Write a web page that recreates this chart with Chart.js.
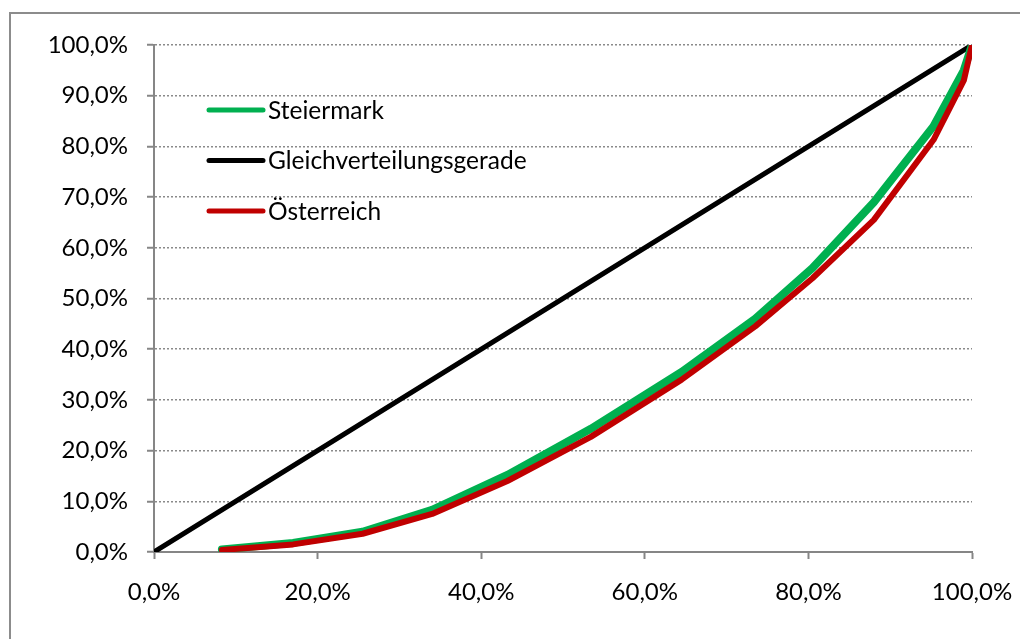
<!DOCTYPE html>
<html>
<head>
<meta charset="utf-8">
<script src="https://cdn.jsdelivr.net/npm/chart.js@4"></script>
<style>
  html, body { margin: 0; padding: 0; background: #fff; }
  canvas { display: block; }
</style>
</head>
<body>
<canvas id="lorenz" width="1020" height="639"></canvas>
<script>
// cumulative population share (x) and income share (y)
const popShare = [0.083, 0.17, 0.255, 0.34, 0.432, 0.534, 0.645, 0.735, 0.805, 0.88, 0.953, 0.99, 1.0];
const steiermarkShare = [0.005, 0.018, 0.04, 0.083, 0.152, 0.243, 0.355, 0.46, 0.56, 0.69, 0.84, 0.95, 1.0];
const oesterreichShare = [0.004, 0.015, 0.036, 0.075, 0.14, 0.227, 0.34, 0.445, 0.54, 0.655, 0.813, 0.93, 1.0];
const equalX = [0, 1];
const equalY = [0, 1];

const seriesNames = ["Steiermark", "Gleichverteilungsgerade", "Österreich"];

const FONT = "Lato, 'Liberation Sans', sans-serif";

function pairs(xs, ys) {
  return xs.map((x, i) => ({ x: x, y: ys[i] }));
}

function pct(v) {
  return (v * 100).toFixed(1).replace(".", ",") + "%";
}

// grey frame around the whole chart
const framePlugin = {
  id: "frame",
  beforeDraw(chart) {
    const ctx = chart.ctx;
    ctx.save();
    ctx.fillStyle = "#fff";
    ctx.fillRect(0, 0, chart.width, chart.height);
    ctx.strokeStyle = "#8c8c8c";
    ctx.lineWidth = 2;
    ctx.strokeRect(10, 13, chart.width + 20, chart.height + 20);
    ctx.restore();
  }
};

// legend drawn inside the plot area, top left
const innerLegend = {
  id: "innerLegend",
  afterDraw(chart) {
    const ctx = chart.ctx;
    const area = chart.chartArea;
    ctx.save();
    ctx.font = "24.5px " + FONT;
    ctx.textBaseline = "middle";
    ctx.fillStyle = "#000";
    chart.data.datasets.forEach((ds, row) => {
      const y = area.top + 65 + row * 50.5;
      const x0 = area.left + 55;
      ctx.beginPath();
      ctx.strokeStyle = ds.borderColor;
      ctx.lineWidth = 5;
      ctx.lineCap = "round";
      ctx.moveTo(x0, y);
      ctx.lineTo(x0 + 54, y);
      ctx.stroke();
      ctx.fillText(ds.label, x0 + 59, y + 1);
    });
    ctx.restore();
  }
};

const ctx = document.getElementById("lorenz").getContext("2d");

new Chart(ctx, {
  type: "scatter",
  data: {
    datasets: [
      {
        label: seriesNames[0],
        data: pairs(popShare, steiermarkShare),
        borderColor: "#00b050",
        borderWidth: 8,
        order: 1
      },
      {
        label: seriesNames[1],
        data: pairs(equalX, equalY),
        borderColor: "#000000",
        borderWidth: 5,
        order: 2
      },
      {
        label: seriesNames[2],
        data: pairs(popShare, oesterreichShare),
        borderColor: "#c00000",
        borderWidth: 6,
        order: 0
      }
    ]
  },
  options: {
    responsive: false,
    animation: false,
    showLine: true,
    elements: {
      point: { radius: 0, hoverRadius: 0 },
      line: { tension: 0, borderCapStyle: "round", borderJoinStyle: "round", fill: false }
    },
    layout: { padding: { left: 0, top: 45, right: 48, bottom: 0 } },
    plugins: {
      legend: { display: false },
      tooltip: { enabled: false }
    },
    scales: {
      x: {
        type: "linear",
        min: 0,
        max: 1,
        afterFit(scale) {
          scale.height = 87;
          scale.paddingLeft = 0;
          scale.paddingRight = 0;
        },
        ticks: {
          stepSize: 0.2,
          color: "#000",
          padding: 19,
          font: { family: FONT, size: 24 },
          callback: v => pct(v)
        },
        grid: {
          drawOnChartArea: false,
          drawTicks: true,
          tickLength: 7,
          tickColor: "#868686",
          tickWidth: 2
        },
        border: { color: "#868686", width: 2 }
      },
      y: {
        type: "linear",
        min: 0,
        max: 1,
        afterFit(scale) {
          scale.width = 154;
          scale.paddingTop = 0;
          scale.paddingBottom = 0;
        },
        ticks: {
          stepSize: 0.1,
          color: "#000",
          padding: 19,
          font: { family: FONT, size: 24 },
          callback: v => pct(v)
        },
        grid: {
          color: "#8a8a8a",
          lineWidth: 1.5,
          tickLength: 7,
          tickColor: "#868686",
          tickWidth: 2,
          tickBorderDash: []
        },
        border: { color: "#868686", width: 2, dash: [2, 2] }
      }
    }
  },
  plugins: [framePlugin, innerLegend]
});
</script>
</body>
</html>
